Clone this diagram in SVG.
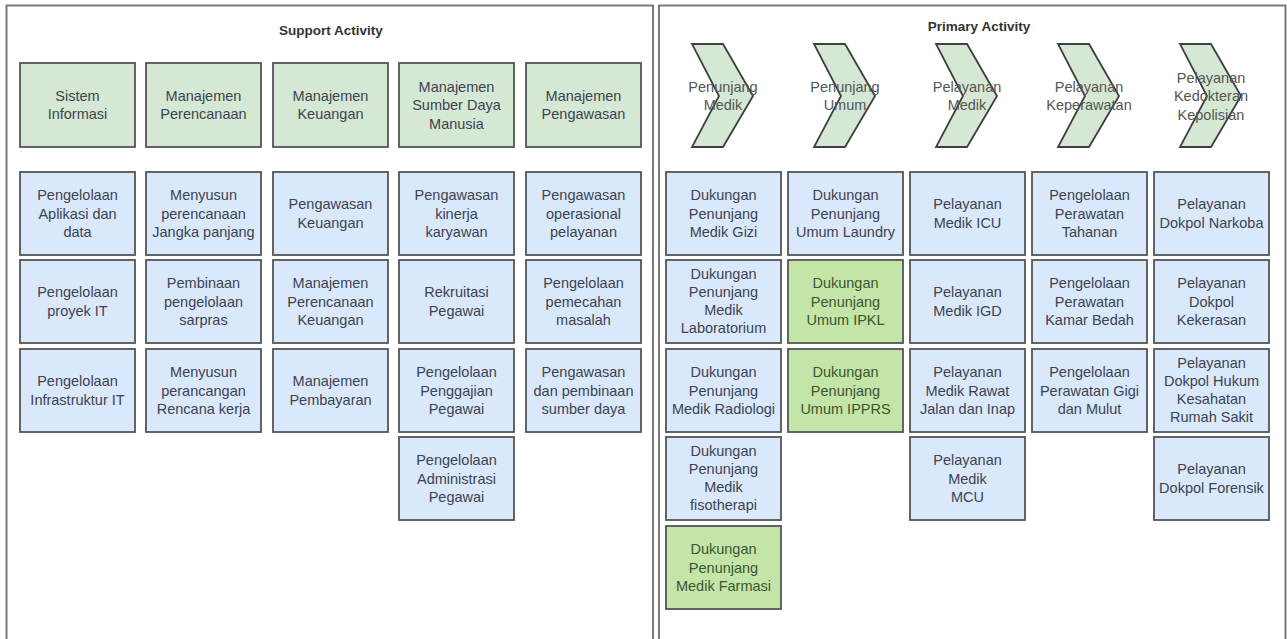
<svg xmlns="http://www.w3.org/2000/svg" width="1287" height="639" viewBox="0 0 1287 639">
<style>
.panel{fill:#ffffff;stroke:#7a7a7a;stroke-width:2}
.title{font-family:"Liberation Sans",Arial,sans-serif;font-size:13.5px;font-weight:bold;fill:#333;text-anchor:middle}
.hdr{fill:#d5e8d4;stroke:#555;stroke-width:1.8}
.blue{fill:#dae8fc;stroke:#555;stroke-width:1.8}
.hl{fill:#c3e5a8;stroke:#555;stroke-width:1.8}
.chev{fill:#d5e8d4;stroke:#3f3f3f;stroke-width:1.8}
.t{font-family:"Liberation Sans",Arial,sans-serif;font-size:14.5px;fill:#3d4350;text-anchor:middle}
.tg{font-family:"Liberation Sans",Arial,sans-serif;font-size:14.5px;fill:#3b5530;text-anchor:middle}
.tc{font-family:"Liberation Sans",Arial,sans-serif;font-size:14.5px;fill:#555;text-anchor:middle}
</style>
<rect x="0" y="0" width="1287" height="639" fill="#ffffff"/>
<g id="support-panel">
<rect class="panel" x="6.5" y="5.5" width="646.5" height="640"/>
<text class="title" x="331" y="35">Support Activity</text>
</g>
<g id="primary-panel">
<rect class="panel" x="659" y="5.5" width="626.5" height="640"/>
<text class="title" x="979" y="31">Primary Activity</text>
</g>
<g id="connectors"/>

<!-- Support headers -->
<g id="sistem-informasi"><rect class="hdr" x="20" y="63" width="115" height="84"/><text class="t" x="77.5" y="100.75">Sistem<tspan x="77.5" dy="18.5">Informasi</tspan></text></g>
<g id="manajemen-perencanaan"><rect class="hdr" x="146" y="63" width="115" height="84"/><text class="t" x="203.5" y="100.75">Manajemen<tspan x="203.5" dy="18.5">Perencanaan</tspan></text></g>
<g id="manajemen-keuangan"><rect class="hdr" x="273" y="63" width="115" height="84"/><text class="t" x="330.5" y="100.75">Manajemen<tspan x="330.5" dy="18.5">Keuangan</tspan></text></g>
<g id="manajemen-sdm"><rect class="hdr" x="399" y="63" width="115" height="84"/><text class="t" x="456.5" y="91.5">Manajemen<tspan x="456.5" dy="18.5">Sumber Daya</tspan><tspan x="456.5" dy="18.5">Manusia</tspan></text></g>
<g id="manajemen-pengawasan"><rect class="hdr" x="526" y="63" width="115" height="84"/><text class="t" x="583.5" y="100.75">Manajemen<tspan x="583.5" dy="18.5">Pengawasan</tspan></text></g>

<!-- Support col1 -->
<g id="s-aplikasi"><rect class="blue" x="20" y="172" width="115" height="83"/><text class="t" x="77.5" y="200">Pengelolaan<tspan x="77.5" dy="18.5">Aplikasi dan</tspan><tspan x="77.5" dy="18.5">data</tspan></text></g>
<g id="s-proyek"><rect class="blue" x="20" y="260" width="115" height="83"/><text class="t" x="77.5" y="297.25">Pengelolaan<tspan x="77.5" dy="18.5">proyek IT</tspan></text></g>
<g id="s-infra"><rect class="blue" x="20" y="349" width="115" height="83"/><text class="t" x="77.5" y="386.25">Pengelolaan<tspan x="77.5" dy="18.5">Infrastruktur IT</tspan></text></g>
<!-- col2 -->
<g id="s-jangka"><rect class="blue" x="146" y="172" width="115" height="83"/><text class="t" x="203.5" y="200">Menyusun<tspan x="203.5" dy="18.5">perencanaan</tspan><tspan x="203.5" dy="18.5">Jangka panjang</tspan></text></g>
<g id="s-sarpras"><rect class="blue" x="146" y="260" width="115" height="83"/><text class="t" x="203.5" y="288">Pembinaan<tspan x="203.5" dy="18.5">pengelolaan</tspan><tspan x="203.5" dy="18.5">sarpras</tspan></text></g>
<g id="s-rencana"><rect class="blue" x="146" y="349" width="115" height="83"/><text class="t" x="203.5" y="377">Menyusun<tspan x="203.5" dy="18.5">perancangan</tspan><tspan x="203.5" dy="18.5">Rencana kerja</tspan></text></g>
<!-- col3 -->
<g id="s-pengawasan-keu"><rect class="blue" x="273" y="172" width="115" height="83"/><text class="t" x="330.5" y="209.25">Pengawasan<tspan x="330.5" dy="18.5">Keuangan</tspan></text></g>
<g id="s-perencanaan-keu"><rect class="blue" x="273" y="260" width="115" height="83"/><text class="t" x="330.5" y="288">Manajemen<tspan x="330.5" dy="18.5">Perencanaan</tspan><tspan x="330.5" dy="18.5">Keuangan</tspan></text></g>
<g id="s-pembayaran"><rect class="blue" x="273" y="349" width="115" height="83"/><text class="t" x="330.5" y="386.25">Manajemen<tspan x="330.5" dy="18.5">Pembayaran</tspan></text></g>
<!-- col4 -->
<g id="s-kinerja"><rect class="blue" x="399" y="172" width="115" height="83"/><text class="t" x="456.5" y="200">Pengawasan<tspan x="456.5" dy="18.5">kinerja</tspan><tspan x="456.5" dy="18.5">karyawan</tspan></text></g>
<g id="s-rekruitasi"><rect class="blue" x="399" y="260" width="115" height="83"/><text class="t" x="456.5" y="297.25">Rekruitasi<tspan x="456.5" dy="18.5">Pegawai</tspan></text></g>
<g id="s-penggajian"><rect class="blue" x="399" y="349" width="115" height="83"/><text class="t" x="456.5" y="377">Pengelolaan<tspan x="456.5" dy="18.5">Penggajian</tspan><tspan x="456.5" dy="18.5">Pegawai</tspan></text></g>
<g id="s-administrasi"><rect class="blue" x="399" y="437" width="115" height="83"/><text class="t" x="456.5" y="465">Pengelolaan<tspan x="456.5" dy="18.5">Administrasi</tspan><tspan x="456.5" dy="18.5">Pegawai</tspan></text></g>
<!-- col5 -->
<g id="s-operasional"><rect class="blue" x="526" y="172" width="115" height="83"/><text class="t" x="583.5" y="200">Pengawasan<tspan x="583.5" dy="18.5">operasional</tspan><tspan x="583.5" dy="18.5">pelayanan</tspan></text></g>
<g id="s-masalah"><rect class="blue" x="526" y="260" width="115" height="83"/><text class="t" x="583.5" y="288">Pengelolaan<tspan x="583.5" dy="18.5">pemecahan</tspan><tspan x="583.5" dy="18.5">masalah</tspan></text></g>
<g id="s-sumberdaya"><rect class="blue" x="526" y="349" width="115" height="83"/><text class="t" x="583.5" y="377">Pengawasan<tspan x="583.5" dy="18.5">dan pembinaan</tspan><tspan x="583.5" dy="18.5">sumber daya</tspan></text></g>

<!-- Chevrons -->
<g id="c-penunjang-medik"><polygon class="chev" points="692,44 723,44 753,96 723,147 692,147 719,96"/><text class="tc" x="723" y="91.75">Penunjang<tspan x="723" dy="18.5">Medik</tspan></text></g>
<g id="c-penunjang-umum"><polygon class="chev" points="814,44 845,44 875,96 845,147 814,147 841,96"/><text class="tc" x="845" y="91.75">Penunjang<tspan x="845" dy="18.5">Umum</tspan></text></g>
<g id="c-pelayanan-medik"><polygon class="chev" points="936,44 967,44 997,96 967,147 936,147 963,96"/><text class="tc" x="967" y="91.75">Pelayanan<tspan x="967" dy="18.5">Medik</tspan></text></g>
<g id="c-keperawatan"><polygon class="chev" points="1058,44 1089,44 1119,96 1089,147 1058,147 1085,96"/><text class="tc" x="1089" y="91.75">Pelayanan<tspan x="1089" dy="18.5">Keperawatan</tspan></text></g>
<g id="c-kepolisian"><polygon class="chev" points="1180,44 1211,44 1241,96 1211,147 1180,147 1207,96"/><text class="tc" x="1211" y="82.5">Pelayanan<tspan x="1211" dy="18.5">Kedokteran</tspan><tspan x="1211" dy="18.5">Kepolisian</tspan></text></g>

<!-- Primary col1 -->
<g id="p-gizi"><rect class="blue" x="666" y="172" width="115" height="83"/><text class="t" x="723.5" y="200">Dukungan<tspan x="723.5" dy="18.5">Penunjang</tspan><tspan x="723.5" dy="18.5">Medik Gizi</tspan></text></g>
<g id="p-lab"><rect class="blue" x="666" y="260" width="115" height="83"/><text class="t" x="723.5" y="279.25">Dukungan<tspan x="723.5" dy="18">Penunjang</tspan><tspan x="723.5" dy="18">Medik</tspan><tspan x="723.5" dy="18">Laboratorium</tspan></text></g>
<g id="p-radiologi"><rect class="blue" x="666" y="349" width="115" height="83"/><text class="t" x="723.5" y="377">Dukungan<tspan x="723.5" dy="18.5">Penunjang</tspan><tspan x="723.5" dy="18.5">Medik Radiologi</tspan></text></g>
<g id="p-fisio"><rect class="blue" x="666" y="437" width="115" height="83"/><text class="t" x="723.5" y="456.25">Dukungan<tspan x="723.5" dy="18">Penunjang</tspan><tspan x="723.5" dy="18">Medik</tspan><tspan x="723.5" dy="18">fisotherapi</tspan></text></g>
<g id="p-farmasi"><rect class="hl" x="666" y="526" width="115" height="83"/><text class="tg" x="723.5" y="554">Dukungan<tspan x="723.5" dy="18.5">Penunjang</tspan><tspan x="723.5" dy="18.5">Medik Farmasi</tspan></text></g>
<!-- col2 -->
<g id="p-laundry"><rect class="blue" x="788" y="172" width="115" height="83"/><text class="t" x="845.5" y="200">Dukungan<tspan x="845.5" dy="18.5">Penunjang</tspan><tspan x="845.5" dy="18.5">Umum Laundry</tspan></text></g>
<g id="p-ipkl"><rect class="hl" x="788" y="260" width="115" height="83"/><text class="tg" x="845.5" y="288">Dukungan<tspan x="845.5" dy="18.5">Penunjang</tspan><tspan x="845.5" dy="18.5">Umum IPKL</tspan></text></g>
<g id="p-ipprs"><rect class="hl" x="788" y="349" width="115" height="83"/><text class="tg" x="845.5" y="377">Dukungan<tspan x="845.5" dy="18.5">Penunjang</tspan><tspan x="845.5" dy="18.5">Umum IPPRS</tspan></text></g>
<!-- col3 -->
<g id="p-icu"><rect class="blue" x="910" y="172" width="115" height="83"/><text class="t" x="967.5" y="209.25">Pelayanan<tspan x="967.5" dy="18.5">Medik ICU</tspan></text></g>
<g id="p-igd"><rect class="blue" x="910" y="260" width="115" height="83"/><text class="t" x="967.5" y="297.25">Pelayanan<tspan x="967.5" dy="18.5">Medik IGD</tspan></text></g>
<g id="p-rawat"><rect class="blue" x="910" y="349" width="115" height="83"/><text class="t" x="967.5" y="377">Pelayanan<tspan x="967.5" dy="18.5">Medik Rawat</tspan><tspan x="967.5" dy="18.5">Jalan dan Inap</tspan></text></g>
<g id="p-mcu"><rect class="blue" x="910" y="437" width="115" height="83"/><text class="t" x="967.5" y="465">Pelayanan<tspan x="967.5" dy="18.5">Medik</tspan><tspan x="967.5" dy="18.5">MCU</tspan></text></g>
<!-- col4 -->
<g id="p-tahanan"><rect class="blue" x="1032" y="172" width="115" height="83"/><text class="t" x="1089.5" y="200">Pengelolaan<tspan x="1089.5" dy="18.5">Perawatan</tspan><tspan x="1089.5" dy="18.5">Tahanan</tspan></text></g>
<g id="p-bedah"><rect class="blue" x="1032" y="260" width="115" height="83"/><text class="t" x="1089.5" y="288">Pengelolaan<tspan x="1089.5" dy="18.5">Perawatan</tspan><tspan x="1089.5" dy="18.5">Kamar Bedah</tspan></text></g>
<g id="p-gigi"><rect class="blue" x="1032" y="349" width="115" height="83"/><text class="t" x="1089.5" y="377">Pengelolaan<tspan x="1089.5" dy="18.5">Perawatan Gigi</tspan><tspan x="1089.5" dy="18.5">dan Mulut</tspan></text></g>
<!-- col5 -->
<g id="p-narkoba"><rect class="blue" x="1154" y="172" width="115" height="83"/><text class="t" x="1211.5" y="209.25">Pelayanan<tspan x="1211.5" dy="18.5">Dokpol Narkoba</tspan></text></g>
<g id="p-kekerasan"><rect class="blue" x="1154" y="260" width="115" height="83"/><text class="t" x="1211.5" y="288">Pelayanan<tspan x="1211.5" dy="18.5">Dokpol</tspan><tspan x="1211.5" dy="18.5">Kekerasan</tspan></text></g>
<g id="p-hukum"><rect class="blue" x="1154" y="349" width="115" height="83"/><text class="t" x="1211.5" y="368.25">Pelayanan<tspan x="1211.5" dy="18">Dokpol Hukum</tspan><tspan x="1211.5" dy="18">Kesahatan</tspan><tspan x="1211.5" dy="18">Rumah Sakit</tspan></text></g>
<g id="p-forensik"><rect class="blue" x="1154" y="437" width="115" height="83"/><text class="t" x="1211.5" y="474.25">Pelayanan<tspan x="1211.5" dy="18.5">Dokpol Forensik</tspan></text></g>
</svg>
